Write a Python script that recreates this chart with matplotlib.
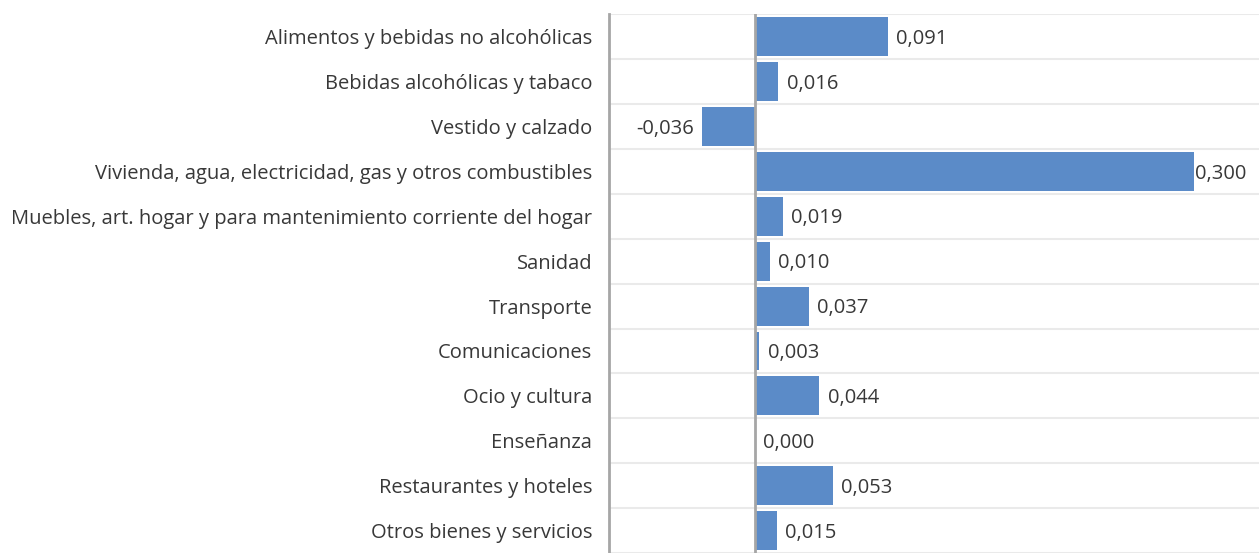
#!/usr/bin/env python3
"""Repercusión por grupos: barras horizontales."""

import numpy as np
import matplotlib

matplotlib.use("Agg")
import matplotlib.pyplot as plt  # noqa: E402

CATEGORIES = [
    "Alimentos y bebidas no alcohólicas",
    "Bebidas alcohólicas y tabaco",
    "Vestido y calzado",
    "Vivienda, agua, electricidad, gas y otros combustibles",
    "Muebles, art. hogar y para mantenimiento corriente del hogar",
    "Sanidad",
    "Transporte",
    "Comunicaciones",
    "Ocio y cultura",
    "Enseñanza",
    "Restaurantes y hoteles",
    "Otros bienes y servicios",
]
VALUES = [0.091, 0.016, -0.036, 0.300, 0.019, 0.010, 0.037, 0.003, 0.044, 0.000, 0.053, 0.015]

BAR_COLOR = "#5B8BC8"
TEXT_COLOR = "#383838"
LINE_COLOR = "#A6A6A6"
GRID_COLOR = "#EAEAEA"

plt.rcParams["font.family"] = ["Open Sans", "DejaVu Sans"]

fig = plt.figure(figsize=(12.59, 5.53), dpi=100)
ax = fig.add_axes([609 / 1259, 0.0, 650 / 1259, 1 - 14.3 / 553])

y = np.arange(len(CATEGORIES))
ax.barh(y, VALUES, height=0.868, color=BAR_COLOR, zorder=2)
ax.axvline(0, color=LINE_COLOR, linewidth=2, zorder=3)

vmax = max(VALUES)
for yi, v in zip(y, VALUES):
    text = f"{v:.3f}".replace(".", ",")
    if v < 0:
        off, ha = -6, "right"
    elif v == vmax:
        off, ha = 1, "left"
    else:
        off, ha = 6, "left"
    ax.annotate(text, (v, yi), xytext=(off, -1.5), textcoords="offset points",
                ha=ha, va="center", fontsize=14.5, color=TEXT_COLOR)

ax.set_xlim(-0.0998, 0.3445)
ax.set_ylim(11.37, -0.5)
ax.set_yticks(y, CATEGORIES)
ax.set_yticks(np.arange(-0.5, len(CATEGORIES)), minor=True)
ax.grid(axis="y", which="minor", color=GRID_COLOR, linewidth=1.5, zorder=0)
ax.tick_params(axis="y", which="both", length=0)
ax.tick_params(axis="y", which="major", pad=12, labelsize=14.5, labelcolor=TEXT_COLOR)
ax.set_xticks([])

for side in ("top", "right", "bottom"):
    ax.spines[side].set_visible(False)
ax.spines["left"].set_color(LINE_COLOR)
ax.spines["left"].set_linewidth(2)

fig.savefig("out.png", dpi=100)
